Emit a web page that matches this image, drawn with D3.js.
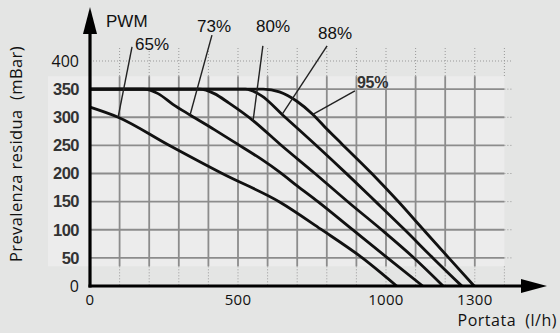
<!DOCTYPE html>
<html><head><meta charset="utf-8">
<script src="https://cdn.jsdelivr.net/npm/d3@7"></script>
<style>html,body{margin:0;padding:0;background:#e4e5e4;}svg{display:block;}</style>
</head><body>
<svg id="c" width="560" height="333"></svg>
<script>
// ---- data ----
const seriesNames = ["65%", "73%", "80%", "88%", "95%"];
const flow65 = [0, 95, 264, 450, 642, 780, 920, 1036];
const head65 = [318, 300, 251, 199, 149, 101, 50, 0];
const flow73 = [0, 180, 230, 280, 338, 420, 496, 580, 642, 700, 770, 885, 1005, 1124];
const head73 = [350, 350, 342, 323, 304, 278, 253, 225, 202, 178, 150, 101, 50, 0];
const flow80 = [0, 370, 420, 470, 551, 642, 760, 875, 985, 1090, 1193];
const head80 = [350, 350, 342, 325, 294, 252, 200, 148, 100, 52, 0];
const flow88 = [0, 525, 580, 649, 760, 870, 965, 1065, 1160, 1256];
const head88 = [350, 350, 338, 305, 252, 198, 150, 99, 49, 0];
const flow95 = [0, 585, 640, 700, 753, 800, 850, 952, 1040, 1125, 1212, 1298];
const head95 = [350, 350, 345, 328, 305, 279, 253, 200, 151, 101, 50, 0];
// leader lines: [flow, head] of label end and curve end
const leaderTop = [[142, 425], [412, 446], [584, 427], [801, 427], [895, 347]];
const leaderEnd = [[95, 300], [338, 304], [551, 294], [649, 305], [753, 305]];
const xTickLabels = [0, 500, 1000, 1300];
const yTickLabels = [0, 50, 100, 150, 200, 250, 300, 350, 400];
const xGrid = [100,200,300,400,500,600,700,800,900,1000,1100,1200,1300];
const xGridDotted = [100,200,300,400,500,600,700,800,900,1000,1100,1200,1300,1400];
const yGrid = [50,100,150,200,250,300,350];

const svg = d3.select("#c");
const x = d3.scaleLinear().domain([0, 1400]).range([90, 504.4]);
const y = d3.scaleLinear().domain([0, 400]).range([286, 61]);

// lighter panel
svg.append("rect").attr("x", 48).attr("y", y(373)).attr("width", x(1400) - 48)
  .attr("height", y(35) - y(373)).attr("fill", "#ececec");

const grid = svg.append("g");
grid.selectAll("line.v").data(xGrid).join("line")
  .attr("x1", d => x(d)).attr("x2", d => x(d)).attr("y1", y(373)).attr("y2", y(35))
  .attr("stroke", "#8c8c8c").attr("stroke-width", 1.8);
grid.selectAll("line.h").data(yGrid).join("line")
  .attr("x1", x(0)).attr("x2", x(1400)).attr("y1", d => y(d)).attr("y2", d => y(d))
  .attr("stroke", "#8c8c8c").attr("stroke-width", 1.8);
function applyDot(s){ return s.attr("stroke", "#999").attr("stroke-width", 1).attr("stroke-dasharray", "1,2"); }
applyDot(grid.append("g").selectAll("line").data(xGridDotted).join("line")
  .attr("x1", d => x(d)).attr("x2", d => x(d)).attr("y1", 48).attr("y2", y(373)));
applyDot(grid.append("g").selectAll("line").data(xGridDotted).join("line")
  .attr("x1", d => x(d)).attr("x2", d => x(d)).attr("y1", y(35)).attr("y2", y(0)));
applyDot(grid.append("g").selectAll("line").data(yGrid).join("line")
  .attr("x1", x(1400)).attr("x2", x(1400) + 8).attr("y1", d => y(d)).attr("y2", d => y(d)));
applyDot(grid.append("line").attr("x1", x(0)).attr("x2", x(1400) + 8).attr("y1", y(400)).attr("y2", y(400)));

// curves
const flows = [flow65, flow73, flow80, flow88, flow95];
const heads = [head65, head73, head80, head88, head95];
const line = d3.line().x(d => x(d[0])).y(d => y(d[1])).curve(d3.curveMonotoneX);
seriesNames.forEach((n, i) => {
  const pts = flows[i].map((f, j) => [f, heads[i][j]]);
  svg.append("path").attr("d", line(pts)).attr("fill", "none")
    .attr("stroke", "#111").attr("stroke-width", 2.8).attr("stroke-linejoin", "round");
});

// leaders
seriesNames.forEach((n, i) => {
  svg.append("line").attr("x1", x(leaderTop[i][0])).attr("y1", y(leaderTop[i][1]))
    .attr("x2", x(leaderEnd[i][0])).attr("y2", y(leaderEnd[i][1]))
    .attr("stroke", "#222").attr("stroke-width", 1.4);
});

// labels
const labelPos = [[135, 50], [197, 32], [256, 32], [318, 39]];
seriesNames.slice(0, 4).forEach((n, i) => {
  svg.append("text").attr("x", labelPos[i][0]).attr("y", labelPos[i][1]).text(n)
    .attr("font-family", "Liberation Sans, Arial, sans-serif").attr("font-size", 17).attr("fill", "#111");
});
svg.append("text").attr("x", 357).attr("y", 88).text(seriesNames[4])
  .attr("font-family", "Liberation Sans, Arial, sans-serif").attr("font-weight", "bold")
  .attr("font-size", 16).attr("fill", "#333").attr("letter-spacing", -0.3);
svg.append("text").attr("x", 106).attr("y", 27).text("PWM")
  .attr("font-family", "Liberation Sans, Arial, sans-serif").attr("font-size", 17).attr("fill", "#111");

// axes
const ax = svg.append("g");
ax.append("line").attr("x1", x(0)).attr("x2", x(0)).attr("y1", y(0) + 1.5).attr("y2", 30)
  .attr("stroke", "#000").attr("stroke-width", 3.2);
ax.append("path").attr("d", `M${x(0)},7 L${x(0)-7},34 L${x(0)+7},34 Z`).attr("fill", "#000");
ax.append("line").attr("x1", x(0) - 1.5).attr("x2", 525).attr("y1", y(0)).attr("y2", y(0))
  .attr("stroke", "#000").attr("stroke-width", 3.2);
ax.append("path").attr("d", `M547,${y(0)} L521,${y(0)-7} L521,${y(0)+7} Z`).attr("fill", "#000");

// tick labels
svg.selectAll("text.xt").data(xTickLabels).join("text")
  .attr("x", d => x(d)).attr("y", 304.5).attr("text-anchor", "middle").text(d => d)
  .attr("font-family", "Open Sans, sans-serif").attr("font-size", 15).attr("letter-spacing", 0.3)
  .attr("fill", "#111");
const plain = d => d === 0 || d === 400;
svg.selectAll("text.yt").data(yTickLabels).join("text")
  .attr("x", 79).attr("y", d => y(d)).attr("dy", "0.35em").attr("text-anchor", "end").text(d => d)
  .attr("font-family", d => plain(d) ? "Open Sans, sans-serif" : "Liberation Sans, Arial, sans-serif")
  .attr("font-weight", d => plain(d) ? "normal" : "bold")
  .attr("letter-spacing", d => plain(d) ? 0 : -0.5)
  .attr("font-size", d => plain(d) ? 16 : 16.5).attr("fill", d => plain(d) ? "#111" : "#333");

svg.append("text").attr("x", 557).attr("y", 326).attr("text-anchor", "end")
  .attr("font-family", "Open Sans, sans-serif").attr("font-size", 16).attr("letter-spacing", 0.5)
  .attr("fill", "#111").style("white-space", "pre").text("Portata  (l/h)");
svg.append("text").attr("transform", "translate(22,154) rotate(-90)").attr("text-anchor", "middle")
  .attr("font-family", "Open Sans, sans-serif").attr("font-size", 16.5).attr("letter-spacing", 0.4)
  .attr("fill", "#111").style("white-space", "pre").text("Prevalenza residua  (mBar)");
</script>
</body></html>
